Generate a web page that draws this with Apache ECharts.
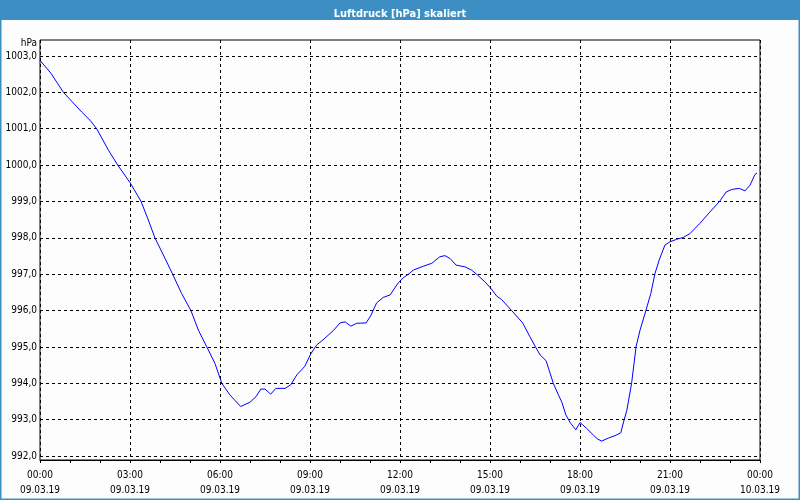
<!DOCTYPE html>
<html>
<head>
<meta charset="utf-8">
<script src="https://cdn.jsdelivr.net/npm/echarts@6/dist/echarts.min.js"></script>
<style>
html,body{margin:0;padding:0;background:#fcfdfc;}
#chart{width:800px;height:500px;}
</style>
</head>
<body>
<div id="chart"></div>
<script>
// Time in hours since 09.03.19 00:00
const hours = [0.0,0.37,0.78,1.39,1.67,1.89,2.28,2.59,3.0,3.37,3.61,3.83,4.17,4.42,4.72,5.03,5.28,5.56,5.83,6.06,6.33,6.69,7.0,7.2,7.36,7.5,7.69,7.86,8.17,8.36,8.56,8.83,9.02,9.22,9.47,9.78,10.0,10.17,10.36,10.56,10.87,11.02,11.22,11.44,11.67,11.94,12.11,12.31,12.44,12.78,13.06,13.33,13.5,13.67,13.87,14.17,14.39,14.58,14.83,15.03,15.22,15.39,15.72,16.09,16.33,16.53,16.67,16.87,17.11,17.28,17.39,17.53,17.67,17.86,18.0,18.22,18.44,18.58,18.72,18.94,19.17,19.36,19.47,19.56,19.72,19.87,20.0,20.2,20.36,20.5,20.64,20.83,21.0,21.22,21.44,21.67,22.0,22.33,22.67,22.87,23.06,23.31,23.5,23.67,23.83,23.9];
const pressure = [1002.88,1002.52,1002.0,1001.46,1001.23,1001.0,1000.41,1000.0,999.52,999.0,998.49,998.0,997.43,997.0,996.47,996.0,995.46,995.0,994.55,994.0,993.68,993.36,993.48,993.63,993.84,993.84,993.7,993.86,993.86,993.96,994.23,994.47,994.8,995.05,995.22,995.45,995.66,995.69,995.57,995.65,995.66,995.85,996.21,996.36,996.43,996.76,996.9,997.02,997.11,997.22,997.3,997.48,997.51,997.43,997.25,997.2,997.11,996.98,996.79,996.61,996.4,996.3,996.0,995.66,995.28,994.98,994.78,994.62,994.0,993.68,993.49,993.13,992.92,992.72,992.92,992.76,992.58,992.47,992.41,992.49,992.56,992.64,992.99,993.25,994.0,995.01,995.46,996.01,996.47,997.02,997.39,997.8,997.89,997.96,998.01,998.12,998.4,998.71,999.02,999.26,999.33,999.36,999.29,999.45,999.74,999.78];
const xTickLabels = ['00:00\n09.03.19','03:00\n09.03.19','06:00\n09.03.19','09:00\n09.03.19','12:00\n09.03.19','15:00\n09.03.19','18:00\n09.03.19','21:00\n09.03.19','00:00\n10.03.19'];
const yMin = 992, yMax = 1003;
const titleText = 'Luftdruck [hPa] skaliert';
const unitText = 'hPa';

const chart = echarts.init(document.getElementById('chart'), null, {renderer:'canvas'});
const labelFont = '"DejaVu Sans Condensed", "DejaVu Sans", sans-serif';
const dash = {color:'#000', width:1, type:[3,3]};
const data = hours.map((h,i)=>[h, pressure[i]]);

chart.setOption({
  backgroundColor:'#fcfdfc',
  animation:false,
  title:{text:titleText, left:'center', top:4,
    textStyle:{color:'#fff', fontSize:11, fontWeight:'bold', fontFamily:'"DejaVu Sans Condensed", "DejaVu Sans", sans-serif'}},
  graphic:[
    {type:'rect', z:-1, shape:{x:0,y:0,width:800,height:20}, style:{fill:'#3d8fc3'}},
    {type:'rect', z:-1, shape:{x:0.5,y:0.5,width:799,height:499}, style:{fill:'none', stroke:'#3d8fc3', lineWidth:2}}
  ],
  grid:[
    {left:40, right:40, top:56, bottom:44},
    {left:40, right:40, top:40, bottom:40, show:true, borderColor:'#000', borderWidth:1, backgroundColor:'transparent'}
  ],
  xAxis:[
    {gridIndex:0, type:'value', min:0, max:24, interval:3, offset:4,
      axisLine:{show:true, lineStyle:{color:'#000'}},
      axisTick:{show:true, length:3, lineStyle:{color:'#000'}},
      minorTick:{show:true, splitNumber:3, length:3, lineStyle:{color:'#000'}},
      splitLine:{show:false},
      axisLabel:{formatter:(v)=>xTickLabels[Math.round(v/3)], color:'#000', fontSize:10, fontFamily:labelFont, lineHeight:15, margin:8}},
    {gridIndex:1, type:'value', min:0, max:24, interval:3,
      axisLine:{show:false}, axisTick:{show:false}, axisLabel:{show:false},
      splitLine:{show:true, lineStyle:dash}}
  ],
  yAxis:[
    {gridIndex:0, type:'value', min:yMin, max:yMax, interval:1,
      name:unitText, nameLocation:'end', nameGap:8,
      nameTextStyle:{color:'#000', fontSize:10, fontFamily:labelFont, align:'right', padding:[0,3,0,0]},
      axisLine:{show:false}, axisTick:{show:false},
      splitLine:{show:true, lineStyle:dash},
      axisLabel:{formatter:(v)=>v.toFixed(1).replace('.',','), color:'#000', fontSize:10, fontFamily:labelFont, margin:3}},
    {gridIndex:1, type:'value', min:0, max:1, show:false}
  ],
  series:[
    {type:'line', xAxisIndex:0, yAxisIndex:0, data:data, showSymbol:false, symbol:'none',
      lineStyle:{color:'#0000ff', width:1}, z:5}
  ]
});
</script>
</body>
</html>
